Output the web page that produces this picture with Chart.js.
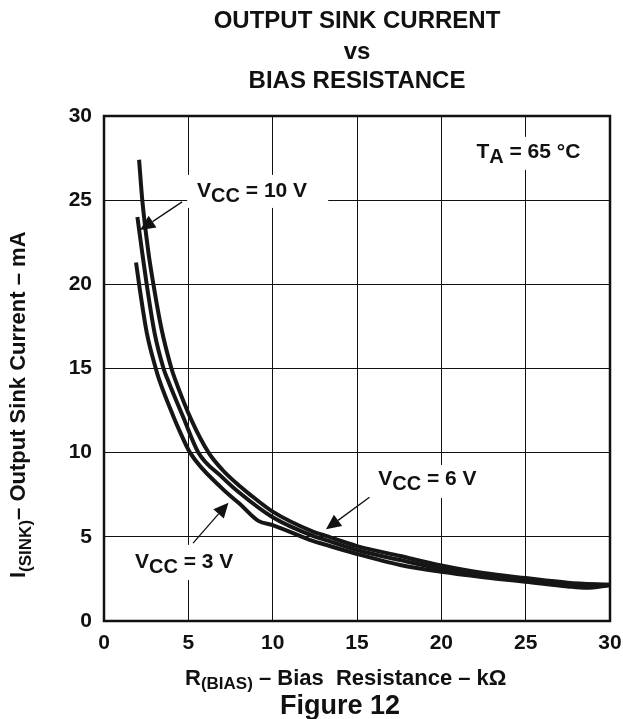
<!DOCTYPE html>
<html><head><meta charset="utf-8">
<script src="https://cdn.jsdelivr.net/npm/chart.js@4.4.1/dist/chart.umd.min.js"></script>
<style>html,body{margin:0;padding:0;background:#fff;overflow:hidden}canvas{display:block}</style>
</head><body>
<canvas id="c" width="623" height="719"></canvas>
<script>
const FONT = '"Liberation Sans", Arial, Helvetica, sans-serif';

// Tick labels
const xTickValues = [0, 5, 10, 15, 20, 25, 30];
const yTickValues = [0, 5, 10, 15, 20, 25, 30];

// V_CC = 10 V
const rBias10V = [2.08, 2.27, 2.62, 2.93, 3.42, 4.0, 4.2, 5.2, 6.2, 7.0, 8.06, 8.55, 10, 12.42, 13.03, 15, 17.56, 20, 22.5, 25, 27.5, 30];
const iSink10V = [27.4, 25.0, 22.0, 20.0, 17.3, 15.0, 14.4, 11.9, 10.0, 9.0, 8.0, 7.6, 6.5, 5.3, 5.1, 4.45, 3.86, 3.3, 2.85, 2.55, 2.28, 2.15];

// V_CC = 6 V
const rBias6V = [1.98, 2.25, 2.53, 3.0, 3.53, 3.75, 4.7, 5.6, 7.0, 8.05, 10, 12.42, 13.03, 15, 17.56, 20, 22.5, 25, 27.5, 30];
const iSink6V = [24.0, 22.0, 20.0, 17.1, 15.0, 14.4, 12.1, 10.0, 8.55, 7.6, 6.16, 5.04, 4.85, 4.22, 3.62, 3.1, 2.72, 2.45, 2.2, 2.15];

// V_CC = 3 V
const rBias3V = [1.90, 2.08, 2.54, 3.07, 3.25, 4.12, 4.5, 5.1, 7.0, 8.06, 9.15, 10, 12.42, 13.03, 15, 17.56, 20, 22.5, 25, 27.5, 28.6, 30];
const iSink3V = [21.3, 20.0, 17.1, 15.0, 14.4, 12.14, 11.25, 10.0, 7.88, 6.95, 5.95, 5.7, 4.74, 4.56, 3.98, 3.33, 2.92, 2.6, 2.33, 2.05, 1.97, 2.12];

const titleLines = ['OUTPUT SINK CURRENT', 'vs', 'BIAS RESISTANCE'];

function pts(xs, ys) { return xs.map((x, i) => ({ x: x, y: ys[i] })); }

// annotation labels: text position / white box / arrow in data units
const notes = [
  { parts: [['V', 0], ['CC', 1], [' = 10 V', 0]], at: [5.52, 25.19], box: [4.93, 26.5, 13.29, 24.54], arrow: [4.63, 24.9, 2.14, 23.23] },
  { parts: [['V', 0], ['CC', 1], [' = 6 V', 0]], at: [16.26, 8.08], box: [15.79, 9.27, 22.61, 7.31], arrow: [15.74, 7.35, 13.16, 5.45] },
  { parts: [['V', 0], ['CC', 1], [' = 3 V', 0]], at: [1.84, 3.15], box: [1.42, 4.52, 8.25, 2.44], arrow: [5.28, 4.63, 7.38, 7.03] },
  { parts: [['T', 0], ['A', 1], [' = 65 \u00B0C', 0]], at: [22.08, 27.51], box: [21.6, 28.76, 28.72, 26.8], arrow: null }
];

function drawParts(ctx, x, y, parts, mainSize, subSize, subDy) {
  let cx = x;
  ctx.textBaseline = 'alphabetic';
  ctx.textAlign = 'left';
  for (const [t, isSub] of parts) {
    ctx.font = 'bold ' + (isSub ? subSize : mainSize) + 'px ' + FONT;
    ctx.fillText(t, cx, y + (isSub ? subDy : 0));
    cx += ctx.measureText(t).width;
  }
  return cx - x;
}

function arrow(ctx, x1, y1, x2, y2) {
  const ang = Math.atan2(y2 - y1, x2 - x1);
  const L = 15, W = 7;
  const bx = x2 - L * Math.cos(ang), by = y2 - L * Math.sin(ang);
  ctx.strokeStyle = '#111';
  ctx.lineWidth = 1.3;
  ctx.beginPath(); ctx.moveTo(x1, y1); ctx.lineTo(bx, by); ctx.stroke();
  ctx.fillStyle = '#111';
  ctx.beginPath();
  ctx.moveTo(x2, y2);
  ctx.lineTo(bx + W * Math.sin(ang), by - W * Math.cos(ang));
  ctx.lineTo(bx - W * Math.sin(ang), by + W * Math.cos(ang));
  ctx.closePath(); ctx.fill();
}

const decor = {
  id: 'decor',
  beforeDatasetsDraw(chart) {
    const ctx = chart.ctx, xs = chart.scales.x, ys = chart.scales.y;
    ctx.save();
    for (const n of notes) {
      const x1 = xs.getPixelForValue(n.box[0]), y1 = ys.getPixelForValue(n.box[1]);
      const x2 = xs.getPixelForValue(n.box[2]), y2 = ys.getPixelForValue(n.box[3]);
      ctx.fillStyle = '#fff';
      ctx.fillRect(x1, y1, x2 - x1, y2 - y1);
      ctx.fillStyle = '#111';
      drawParts(ctx, xs.getPixelForValue(n.at[0]), ys.getPixelForValue(n.at[1]), n.parts, 21, 20, 5.5);
    }
    ctx.restore();
  },
  afterDatasetsDraw(chart) {
    const ctx = chart.ctx, xs = chart.scales.x, ys = chart.scales.y;
    ctx.save();
    for (const n of notes) {
      if (!n.arrow) continue;
      arrow(ctx, xs.getPixelForValue(n.arrow[0]), ys.getPixelForValue(n.arrow[1]),
        xs.getPixelForValue(n.arrow[2]), ys.getPixelForValue(n.arrow[3]));
    }
    const a = chart.chartArea;
    ctx.strokeStyle = '#111';
    ctx.lineWidth = 2.5;
    ctx.strokeRect(a.left, a.top, a.right - a.left, a.bottom - a.top);
    ctx.restore();
  },
  afterDraw(chart) {
    const ctx = chart.ctx, a = chart.chartArea;
    const cx = (a.left + a.right) / 2;
    ctx.save();
    ctx.fillStyle = '#111';
    ctx.textAlign = 'center';
    ctx.textBaseline = 'alphabetic';
    ctx.font = 'bold 24px ' + FONT;
    ctx.fillText(titleLines[0], cx, 28);
    ctx.fillText(titleLines[1], cx, 59);
    ctx.fillText(titleLines[2], cx, 88);
    // x-axis title
    drawParts(ctx, 185, 685, [['R', 0], ['(BIAS)', 1], [' \u2013 Bias  Resistance \u2013 k\u03A9', 0]], 22, 17, 4);
    // figure caption
    ctx.textAlign = 'center';
    ctx.font = 'bold 27px ' + FONT;
    ctx.fillText('Figure 12', 340, 714);
    // y-axis title
    ctx.translate(25, 578);
    ctx.rotate(-Math.PI / 2);
    drawParts(ctx, 0, 0, [['I', 0], ['(SINK)', 1], ['\u2013 Output Sink Current \u2013 mA', 0]], 22, 17, 5.5);
    ctx.restore();
  }
};

function ds(label, xs, ys) {
  return {
    label: label, data: pts(xs, ys),
    borderColor: '#161616', borderWidth: 4, pointRadius: 0,
    cubicInterpolationMode: 'monotone', fill: false, clip: false
  };
}

const tickFont = { family: FONT, size: 21, weight: 'bold' };

new Chart(document.getElementById('c'), {
  type: 'line',
  data: {
    datasets: [
      ds('VCC = 10 V', rBias10V, iSink10V),
      ds('VCC = 6 V', rBias6V, iSink6V),
      ds('VCC = 3 V', rBias3V, iSink3V)
    ]
  },
  options: {
    responsive: false, animation: false, devicePixelRatio: 1,
    layout: { padding: { top: 116, right: 13, left: 0, bottom: 0 } },
    plugins: { legend: { display: false }, tooltip: { enabled: false }, title: { display: false } },
    scales: {
      x: {
        type: 'linear', min: 0, max: 30,
        afterBuildTicks: s => { s.ticks = xTickValues.map(v => ({ value: v })); },
        afterFit: s => { s.height = 98; s.paddingLeft = 0; s.paddingRight = 0; },
        ticks: { font: tickFont, color: '#111', padding: 10, maxRotation: 0, autoSkip: false },
        grid: { color: '#111', lineWidth: 1, drawTicks: false },
        border: { color: '#111', width: 2 }
      },
      y: {
        type: 'linear', min: 0, max: 30,
        afterBuildTicks: s => { s.ticks = yTickValues.map(v => ({ value: v })); },
        afterFit: s => { s.width = 104; s.paddingTop = 0; s.paddingBottom = 0; },
        ticks: { font: tickFont, color: '#111', padding: 12, autoSkip: false },
        grid: { color: '#111', lineWidth: 1, drawTicks: false },
        border: { color: '#111', width: 2 }
      }
    }
  },
  plugins: [decor]
});
</script>
</body></html>
